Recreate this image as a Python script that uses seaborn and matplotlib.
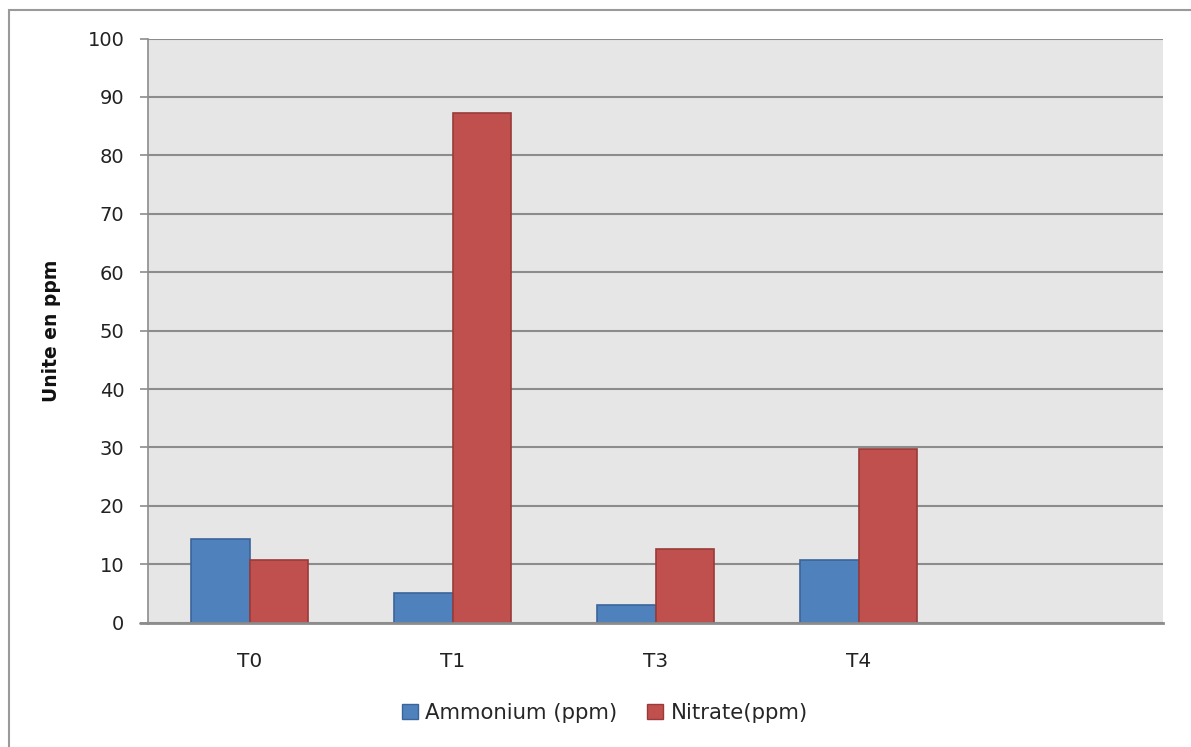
import pandas as pd
import matplotlib
matplotlib.use('Agg')
import matplotlib.pyplot as plt
import matplotlib.patches as mpatches
import matplotlib.lines as mlines
import seaborn as sns

# Donnees
categories = ['T0', 'T1', 'T3', 'T4']
ammonium = [14.3, 5.0, 3.0, 10.7]
nitrate = [10.7, 87.3, 12.7, 29.8]
series = ['Ammonium (ppm)', 'Nitrate(ppm)']

couleurs = ['#4F81BD', '#C0504D']
bords = ['#3B659A', '#9A3B39']

df = pd.DataFrame({
    'temps': categories * 2,
    'valeur': ammonium + nitrate,
    'serie': [series[0]] * len(categories) + [series[1]] * len(categories),
})

sns.set_style('white')
plt.rcParams['font.family'] = ['DejaVu Sans']

fig = plt.figure(figsize=(11.91, 7.47), dpi=100)
ax = fig.add_axes([148 / 1191, 1 - 622.7 / 747, (1163 - 148) / 1191, (622.7 - 38.5) / 747])
ax.set_facecolor('#E6E6E6')

sns.barplot(data=df, x='temps', y='valeur', hue='serie', hue_order=series,
            order=categories, palette=couleurs, width=0.58, ax=ax, legend=False,
            linewidth=1.2, saturation=1)

# bordures plus sombres sur les barres
for i, cont in enumerate(ax.containers):
    for bar in cont:
        bar.set_edgecolor(bords[i])

ax.set_xlim(-0.5, 4.5)
ax.set_ylim(0, 100)
ax.set_yticks(range(0, 101, 10))
ax.yaxis.grid(True, color='#8C8C8C', linewidth=1.5)
ax.set_axisbelow(True)

for s in ['top', 'right']:
    ax.spines[s].set_visible(False)
ax.spines['left'].set_color('#8C8C8C')
ax.spines['left'].set_linewidth(1.2)
ax.spines['bottom'].set_color('#8C8C8C')
ax.spines['bottom'].set_linewidth(2)

# l'axe horizontal deborde un peu a gauche, comme dans Excel
ax.add_line(mlines.Line2D([-0.008, 0], [0, 0], transform=ax.transAxes,
                          color='#8C8C8C', linewidth=2, clip_on=False))

ax.tick_params(axis='y', length=6, color='#8C8C8C', width=1.2, pad=11,
               labelsize=14, labelcolor='#222222', left=True)
ax.tick_params(axis='x', length=0, pad=21, labelsize=14.5, labelcolor='#222222')

ax.set_xlabel('')
ax.set_ylabel('Unite en ppm', fontsize=13.5, fontweight='bold', color='#111111')
ax.yaxis.set_label_coords(-0.086, 0.5)

# legende
poignees = [mpatches.Patch(facecolor=couleurs[i], edgecolor=bords[i], label=series[i])
            for i in range(2)]
fig.legend(handles=poignees, loc='center', bbox_to_anchor=(0.508, 0.0455), ncol=2,
           frameon=False, fontsize=15.3, handlelength=0.75, handleheight=0.75,
           handletextpad=0.35, columnspacing=1.4)

# cadre du graphique
cadre = mpatches.Rectangle((9 / 1191, -0.05), 1.2, 1 - 10 / 747 + 0.05,
                           transform=fig.transFigure, fill=False,
                           edgecolor='#9A9A9A', linewidth=1.5)
fig.patches.append(cadre)

fig.savefig('out.png', dpi=100)
